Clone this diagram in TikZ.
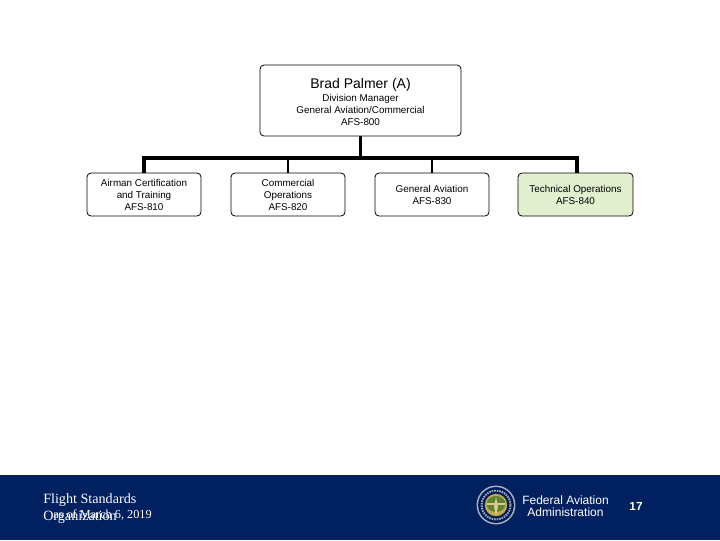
\documentclass[tikz,border=0pt]{standalone}
\usepackage{fontspec}
\setmainfont{Liberation Sans}
\newfontfamily\serifface{Liberation Serif}
\definecolor{navy}{RGB}{0,32,96}
\definecolor{paleGreen}{RGB}{226,240,208}
\definecolor{sealGold}{RGB}{190,170,80}
\definecolor{sealGreen}{RGB}{95,130,45}
\tikzset{
  orgbox/.style={draw=black,line width=0.6pt,rounded corners=3pt,fill=white,align=center,inner sep=0pt,text=black,font=\fontsize{7.4}{9}\selectfont},
  thin bus/.style={line width=1.5pt,draw=black},
  thick bus/.style={line width=2.6pt,draw=black},
  foot/.style={text=white,inner sep=0pt},
}
\begin{document}
\begin{tikzpicture}[x=0.75pt,y=-0.75pt]
\useasboundingbox (0,0) rectangle (720,540);
\fill[navy] (0,475) rectangle (720,540);
% boxes
\node[orgbox,minimum width=150.75pt,minimum height=53.25pt,text height=0pt] (top) at (360.5,100.5) {};
\node[inner sep=0pt,align=center,text=black,font=\fontsize{7.4}{9}\selectfont] (toptext) at (360.5,102) {\fontsize{10.5}{12}\selectfont Brad Palmer (A)\\[1pt]Division Manager\\General Aviation/Commercial\\AFS-800};
\node[orgbox,minimum width=85.5pt,minimum height=32.25pt] (c1) at (144,194.5) {Airman Certification\\and Training\\AFS-810};
\node[orgbox,minimum width=85.5pt,minimum height=32.25pt] (c2) at (288,194.5) {Commercial\\Operations\\AFS-820};
\node[orgbox,minimum width=85.5pt,minimum height=32.25pt] (c3) at (432,194.5) {General Aviation\\AFS-830};
\node[orgbox,fill=paleGreen,minimum width=86.25pt,minimum height=32.25pt] (c4) at (575.5,194.5) {Technical Operations\\AFS-840};
% connectors
\coordinate (busmid) at (360.5,158);
\coordinate (busleft) at (144,158);
\coordinate (busright) at (577,158);
\coordinate (drop2) at (288,158);
\coordinate (drop3) at (432,158);
\draw[thick bus] (top.south) -- (busmid);
\draw[thick bus,line join=miter] (c1.north) -- (busleft) -- (busright) -- (c4.north -| busright);
\draw[thin bus] (drop2) -- (c2.north);
\draw[thin bus] (drop3) -- (c3.north);
% footer text
\node[foot,anchor=west,font=\serifface\fontsize{10.6}{12}\selectfont] (f1) at (43,500) {Flight Standards};
\node[foot,anchor=west,font=\serifface\fontsize{10.6}{12}\selectfont] (f2) at (43,517) {Organization};
\node[foot,anchor=west,font=\serifface\fontsize{9.2}{10}\selectfont] (f3) at (53,515) {as of March 6, 2019};
\node[foot,align=center,font=\fontsize{9}{9}\selectfont] (faa) at (565.5,506) {Federal Aviation\\Administration};
\node[foot,font=\bfseries\fontsize{8.8}{10}\selectfont] (num) at (636,506) {17};
% seal
\fill[white!65!navy] (496,505) circle (14.6pt);
\fill[navy!85!black] (496,505) circle (13.4pt);
\draw[white!60!navy,line width=1.5pt,dash pattern=on 1.2pt off 0.7pt] (496,505) circle (10.8pt);
\fill[sealGold] (496,505) circle (8.4pt);
\fill[sealGreen] (496,504) ellipse (7pt and 6pt);
\fill[white!40!sealGold] (496,497) -- (498,507) -- (496,516) -- (494,507) -- cycle;
\fill[white!40!sealGold] (487,503) -- (505,503) -- (505,505) -- (487,505) -- cycle;
\end{tikzpicture}
\end{document}
